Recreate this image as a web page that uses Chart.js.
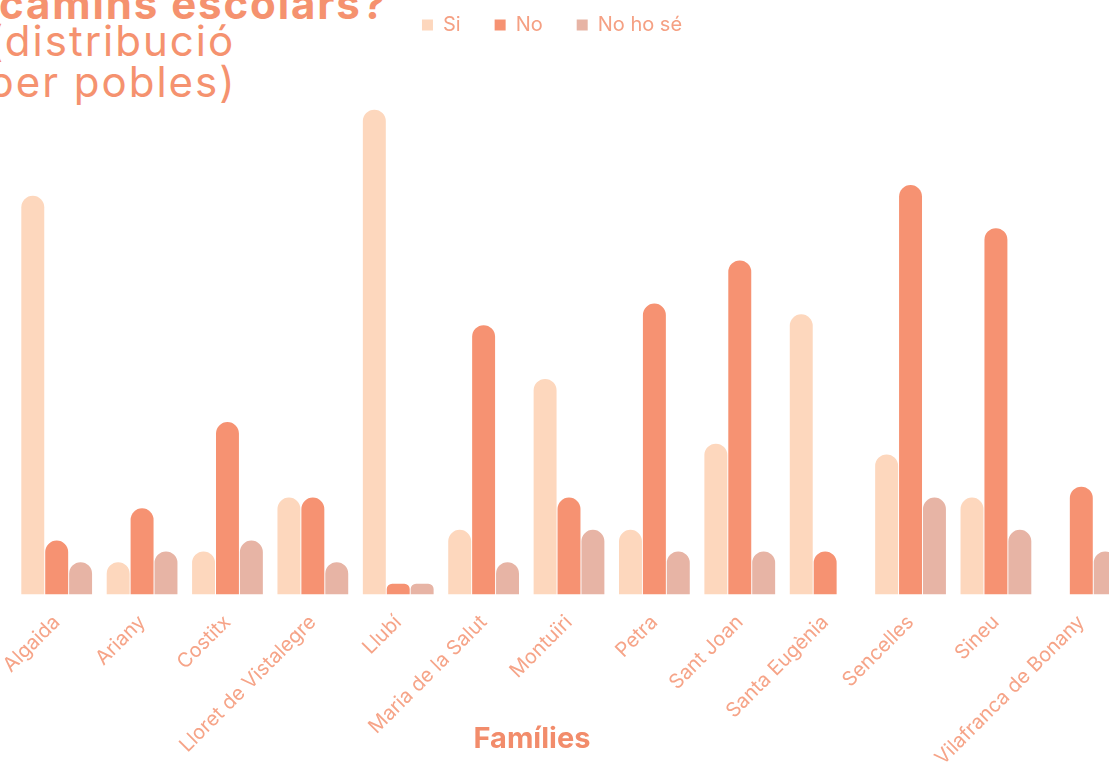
<!DOCTYPE html>
<html>
<head>
<meta charset="utf-8">
<script src="https://cdn.jsdelivr.net/npm/chart.js@4/dist/chart.umd.min.js"></script>
<style>
    html, body { margin: 0; padding: 0; background: #fff; }
    body { width: 1109px; height: 762px; overflow: hidden; position: relative; font-family: Inter, sans-serif; }
    .chart-wrap { position: absolute; left: -14px; top: -19px; width: 1140px; height: 800px; }
    .titol { position: absolute; left: -12px; top: -13px; color: #F5926F; white-space: nowrap; }
    .titol .bold { font-weight: 700; font-size: 42px; line-height: 33px; letter-spacing: 1.9px; margin-left: 11px; }
    .titol .reg { font-weight: 400; font-size: 42px; line-height: 41px; letter-spacing: 2px; }
    .eix-x { position: absolute; left: 432px; top: 723px; width: 200px; text-align: center;
             font-weight: 700; font-size: 29px; line-height: 29px; color: #F28C6B; }
</style>
</head>
<body>
<div class="titol">
    <div class="bold">camins escolars?</div>
    <div class="reg">(distribució</div>
    <div class="reg">per pobles)</div>
</div>
<div class="chart-wrap"><canvas id="pobles-chart"></canvas></div>
<div class="eix-x">Famílies</div>

<script>
const categories = ['Algaida', 'Ariany', 'Costitx', 'Lloret de Vistalegre', 'Llubí', 'Maria de la Salut',
    'Montuïri', 'Petra', 'Sant Joan', 'Santa Eugènia', 'Sencelles', 'Sineu', 'Vilafranca de Bonany'];
const si = [37, 3, 4, 9, 45, 6, 20, 6, 14, 26, 13, 9, 0];
const no = [5, 8, 16, 9, 1, 25, 9, 27, 31, 4, 38, 34, 10];
const noHoSe = [3, 4, 5, 3, 1, 3, 6, 4, 4, 0, 9, 6, 4];

const COLORS = ['#FDD7BD', '#F69272', '#E7B4A5'];

function barSet(label, data, color) {
    return {
        label: label,
        data: data,
        backgroundColor: color,
        borderRadius: { topLeft: 12, topRight: 12 },
        borderSkipped: 'bottom',
        categoryPercentage: 0.84,
        barPercentage: 0.96
    };
}

// the legend sits a bit left of the plot centre
const legendShift = {
    id: 'legendShift',
    afterLayout: function (chart) {
        chart.legend.left -= 17;
        chart.legend.right -= 17;
    }
};

document.addEventListener('DOMContentLoaded', function () {
    const ctx = document.getElementById('pobles-chart').getContext('2d');
    new Chart(ctx, {
        type: 'bar',
        data: {
            labels: categories,
            datasets: [
                barSet('Si', si, COLORS[0]),
                barSet('No', no, COLORS[1]),
                barSet('No ho sé', noHoSe, COLORS[2])
            ]
        },
        plugins: [legendShift],
        options: {
            responsive: true,
            maintainAspectRatio: false,
            animation: false,
            layout: { padding: { left: 28, right: 2, top: 0, bottom: 3 } },
            plugins: {
                legend: {
                    position: 'top',
                    labels: {
                        boxWidth: 11,
                        boxHeight: 11,
                        padding: 34,
                        color: '#F5A083',
                        font: { family: 'Inter', size: 20 }
                    }
                },
                tooltip: { enabled: false }
            },
            scales: {
                x: {
                    grid: { display: false },
                    border: { display: false },
                    ticks: {
                        minRotation: 45,
                        maxRotation: 45,
                        padding: 8,
                        color: '#F6A488',
                        font: { family: 'Inter', size: 20 }
                    }
                },
                y: {
                    display: false,
                    min: 0,
                    max: 51
                }
            }
        }
    });
});
</script>
</body>
</html>
